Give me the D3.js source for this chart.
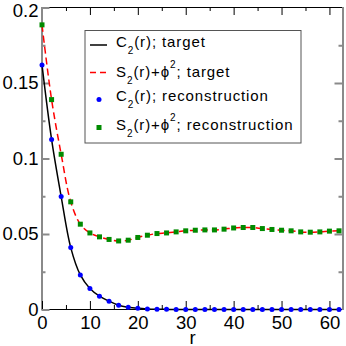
<!DOCTYPE html>
<html>
<head>
<meta charset="utf-8">
<script src="https://cdn.jsdelivr.net/npm/d3@7"></script>
<style>
  body { margin: 0; background: #fff; }
  svg { display: block; }
  text { font-family: "Liberation Sans", Arial, Helvetica, sans-serif; }
</style>
</head>
<body>
<script>
const rValues = [0, 2, 4, 6, 8, 10, 12, 14, 16, 18, 20, 22, 24, 26, 28, 30,
                 32, 34, 36, 38, 40, 42, 44, 46, 48, 50, 52, 54, 56, 58, 60, 62];
const c2Values = [0.162, 0.1126, 0.0748, 0.041, 0.0229, 0.0139, 0.0088, 0.0055,
                  0.0028, 0.0015, 0.0008, 0.0004, 0.0002, 0.0001, 0, 0,
                  0, 0, 0, 0, 0, 0, 0, 0, 0, 0, 0, 0, 0, 0, 0, 0];
const s2Values = [0.1885, 0.139, 0.1028, 0.0713, 0.0565, 0.0507, 0.0481, 0.0464,
                  0.0454, 0.0459, 0.0477, 0.0492, 0.0503, 0.0507, 0.0514, 0.0521,
                  0.0525, 0.0527, 0.0527, 0.0532, 0.0540, 0.0543, 0.0543, 0.0536,
                  0.0530, 0.0525, 0.0521, 0.0514, 0.0512, 0.0514, 0.0519, 0.0521];

const xTicks = [0, 10, 20, 30, 40, 50, 60];
const xMinorTicks = [5, 15, 25, 35, 45, 55];
const yTicks = [0, 0.05, 0.1, 0.15, 0.2];
const yTickLabels = ["0", "0.05", "0.1", "0.15", "0.2"];
const yMinorTicks = [0.025, 0.075, 0.125, 0.175];

const w = 346;
const h = 346;
const margin = ({top: 7.5, right: 3, bottom: 36.5, left: 42});

const c2 = rValues.map((r, i) => [r, c2Values[i]]);
const s2 = rValues.map((r, i) => [r, s2Values[i]]);

let svg = d3.select("body")
    .append("svg")
    .attr("width", w)
    .attr("height", h);

let x = d3.scaleLinear()
    .domain([0, 62.83])
    .range([margin.left, w - margin.right]);

let y = d3.scaleLinear()
    .domain([0, 0.2])
    .range([h - margin.bottom, margin.top]);

const tickFont = "18.5px";
const gray = "#8a8a8a";

// frame: top/bottom crisp black, left/right soft gray like the original
svg.append("line")
    .attr("x1", x.range()[0]).attr("x2", x.range()[1])
    .attr("y1", y(0.2)).attr("y2", y(0.2))
    .attr("stroke", "#000");
svg.append("line")
    .attr("x1", x.range()[0]).attr("x2", x.range()[1])
    .attr("y1", y(0)).attr("y2", y(0))
    .attr("stroke", "#000");
svg.append("line")
    .attr("x1", x(0)).attr("x2", x(0))
    .attr("y1", y(0) + 0.5).attr("y2", y(0.2) - 0.5)
    .attr("stroke", gray).attr("stroke-width", 2);
svg.append("line")
    .attr("x1", x.range()[1]).attr("x2", x.range()[1])
    .attr("y1", y(0) + 0.5).attr("y2", y(0.2) - 0.5)
    .attr("stroke", gray).attr("stroke-width", 2);

// axes (ticks point inwards)
let xAxis = g => g
    .attr("transform", `translate(0,${y(0) - 0.5})`)
    .call(d3.axisBottom(x).tickValues(xTicks).tickSize(-8).tickPadding(7)
        .tickFormat(d3.format("d")))
    .call(g => g.select(".domain").remove())
    .call(g => g.selectAll("text").attr("font-size", tickFont).attr("font-family", null).attr("fill", "#000"));

let xMinor = g => g
    .attr("transform", `translate(0,${y(0) - 0.5})`)
    .call(d3.axisBottom(x).tickValues(xMinorTicks).tickSize(-4).tickFormat(""))
    .call(g => g.select(".domain").remove());

let xTop = (g, vals, size) => g
    .attr("transform", `translate(0,${y(0.2) - 0.5})`)
    .call(d3.axisTop(x).tickValues(vals).tickSize(-size).tickFormat(""))
    .call(g => g.select(".domain").remove());

let yAxis = g => g
    .attr("transform", `translate(${x(0) - 0.5},0)`)
    .call(d3.axisLeft(y).tickValues(yTicks).tickSize(-8).tickPadding(3)
        .tickFormat((d, i) => yTickLabels[i]))
    .call(g => g.select(".domain").remove())
    .call(g => g.selectAll("line").attr("stroke", gray).attr("stroke-width", 2))
    .call(g => g.selectAll("text").attr("font-size", tickFont).attr("font-family", null).attr("fill", "#000"))
    .call(g => g.selectAll("text").filter(d => d === 0.2).attr("dy", "0.5em"));

let yMinor = g => g
    .attr("transform", `translate(${x(0) - 0.5},0)`)
    .call(d3.axisLeft(y).tickValues(yMinorTicks).tickSize(-4).tickFormat(""))
    .call(g => g.select(".domain").remove())
    .call(g => g.selectAll("line").attr("stroke", gray).attr("stroke-width", 2));

let yRight = (g, vals, size) => g
    .attr("transform", `translate(${x.range()[1] - 0.5},0)`)
    .call(d3.axisRight(y).tickValues(vals).tickSize(-size).tickFormat(""))
    .call(g => g.select(".domain").remove())
    .call(g => g.selectAll("line").attr("stroke", gray).attr("stroke-width", 2));

svg.append("g").call(xAxis);
svg.append("g").call(xMinor);
svg.append("g").call(xTop, xTicks.filter(d => d > 0), 8);
svg.append("g").call(xTop, xMinorTicks, 4);
svg.append("g").call(yAxis);
svg.append("g").call(yMinor);
svg.append("g").call(yRight, yTicks.filter(d => d > 0 && d < 0.2), 8);
svg.append("g").call(yRight, yMinorTicks, 4);

svg.append("text")
    .attr("x", (x.range()[0] + x.range()[1]) / 2)
    .attr("y", 343.5)
    .attr("text-anchor", "middle")
    .attr("font-size", tickFont)
    .text("r");

// target curves
let line = d3.line()
    .x(d => x(d[0]))
    .y(d => y(d[1]))
    .curve(d3.curveCatmullRom);

svg.append("path")
    .datum(c2)
    .attr("fill", "none")
    .attr("stroke", "#000")
    .attr("stroke-width", 1.5)
    .attr("d", line);

svg.append("path")
    .datum(s2)
    .attr("fill", "none")
    .attr("stroke", "#ff0000")
    .attr("stroke-width", 1.5)
    .attr("stroke-dasharray", "7,4")
    .attr("d", line);

// reconstruction points
svg.append("g")
    .selectAll("circle")
    .data(c2)
    .join("circle")
    .attr("cx", d => x(d[0]))
    .attr("cy", d => y(d[1]))
    .attr("r", 2.5)
    .attr("fill", "#0000ff");

svg.append("g")
    .selectAll("rect")
    .data(s2)
    .join("rect")
    .attr("x", d => x(d[0]) - 2.5)
    .attr("y", d => y(d[1]) - 2.5)
    .attr("width", 5)
    .attr("height", 5)
    .attr("fill", "#008b00");

// legend
const legend = svg.append("g");
legend.append("rect")
    .attr("x", 85).attr("y", 30.5)
    .attr("width", 216).attr("height", 112.5)
    .attr("fill", "#fff")
    .attr("stroke", "#555");

const rows = [
    {sym: "line", y: 45, base: 46.7, name: "C", rest: "(r); target"},
    {sym: "dash", y: 72.5, base: 76.7, name: "S", rest: "(r)+ϕ", sup: "; target"},
    {sym: "dot", y: 99.5, base: 101, name: "C", rest: "(r); reconstruction"},
    {sym: "square", y: 127.5, base: 130, name: "S", rest: "(r)+ϕ", sup: "; reconstruction"}
];

rows.forEach(row => {
    if (row.sym === "line" || row.sym === "dash") {
        legend.append("line")
            .attr("x1", 90).attr("x2", 107)
            .attr("y1", row.y).attr("y2", row.y)
            .attr("stroke", row.sym === "line" ? "#000" : "#ff0000")
            .attr("stroke-width", 1.5)
            .attr("stroke-dasharray", row.sym === "dash" ? "6,4" : null);
    } else if (row.sym === "dot") {
        legend.append("circle")
            .attr("cx", 99).attr("cy", row.y).attr("r", 2.5)
            .attr("fill", "#0000ff");
    } else {
        legend.append("rect")
            .attr("x", 96.5).attr("y", row.y - 2.5)
            .attr("width", 5).attr("height", 5)
            .attr("fill", "#008b00");
    }
    const t = legend.append("text")
        .attr("x", 116).attr("y", row.base)
        .attr("font-size", "15px")
        .attr("letter-spacing", "0.9px");
    t.append("tspan").text(row.name);
    t.append("tspan").attr("font-size", "10px").attr("dy", 7).text("2");
    t.append("tspan").attr("dy", -7).text(row.rest);
    if (row.sup) {
        t.append("tspan").attr("font-size", "10px").attr("dy", -9).text("2");
        t.append("tspan").attr("dy", 9).text(row.sup);
    }
});
</script>
</body>
</html>
